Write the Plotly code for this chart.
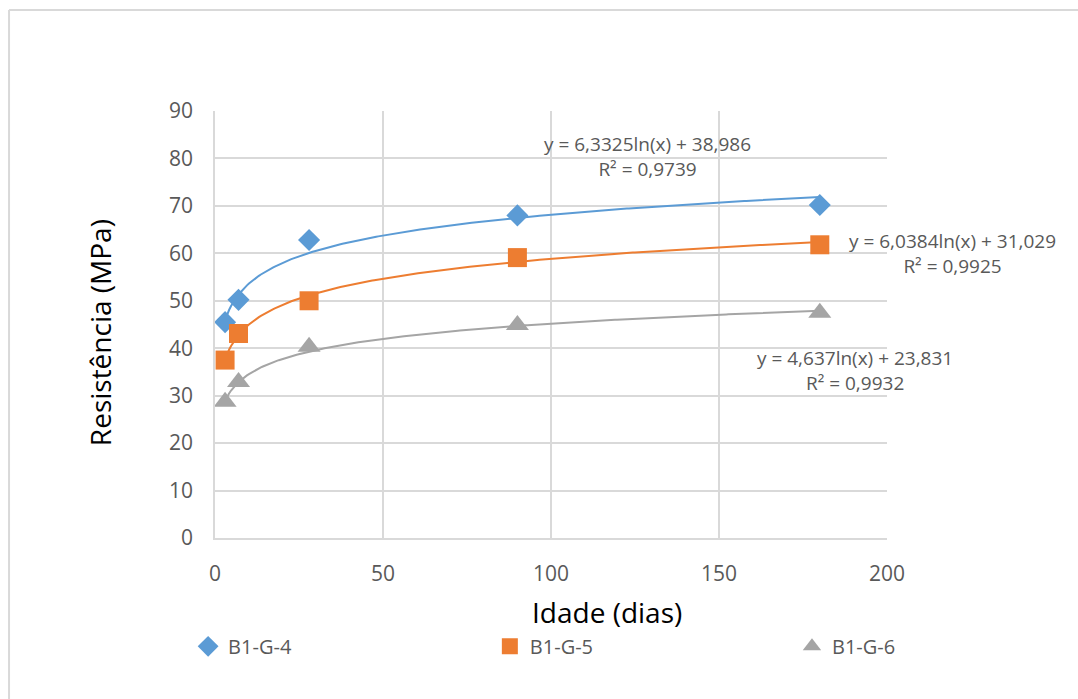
import numpy as np
import plotly.graph_objects as go

idade = [3, 7, 28, 90, 180]
b1_g4 = [45.5, 50.2, 62.8, 68.0, 70.2]
b1_g5 = [37.5, 43.1, 50.0, 59.1, 61.8]
b1_g6 = [28.7, 32.9, 40.3, 44.9, 47.5]

series_names = ["B1-G-4", "B1-G-5", "B1-G-6"]
trend_a = [6.3325, 6.0384, 4.637]
trend_b = [38.986, 31.029, 23.831]
trend_r2 = ["0,9739", "0,9925", "0,9932"]
trend_a_txt = ["6,3325", "6,0384", "4,637"]
trend_b_txt = ["38,986", "31,029", "23,831"]

colors = ["#5B9BD5", "#ED7D31", "#A5A5A5"]
symbols = ["diamond", "square", "triangle-up"]
sizes = [17, 19, 20]
values = [b1_g4, b1_g5, b1_g6]
legend_ids = ["legend", "legend2", "legend3"]
legend_x = [-0.040, 0.409, 0.8586]

FONT = "Open Sans"
GREY = "#595959"
GRID = "#D9D9D9"
fig = go.Figure()

xs = np.linspace(min(idade), max(idade), 300)
for i in range(3):
    fig.add_trace(go.Scatter(
        x=xs, y=trend_a[i] * np.log(xs) + trend_b[i], mode="lines",
        line=dict(color=colors[i], width=2), showlegend=False, hoverinfo="skip"))

for i in range(3):
    fig.add_trace(go.Scatter(
        x=idade, y=values[i], mode="markers", name=series_names[i],
        legend=legend_ids[i],
        marker=dict(color=colors[i], symbol=symbols[i], size=sizes[i])))

# equation labels
ann_pos = [(128.6, 80.5, "center"), (188.1, 60.0, "left"), (190.5, 35.3, "center")]
for i in range(3):
    x, y, al = ann_pos[i]
    txt = f"y = {trend_a_txt[i]}ln(x) + {trend_b_txt[i]}<br>R² = {trend_r2[i]}"
    fig.add_annotation(x=x, y=y, xref="x", yref="y", text=txt, showarrow=False,
                       align="center", xanchor=al, yanchor="middle",
                       font=dict(family=FONT, size=19, color=GREY))

# axis titles
fig.add_annotation(x=0.583, y=-0.173, xref="paper", yref="paper", text="Idade (dias)",
                   showarrow=False, xanchor="center", yanchor="middle",
                   font=dict(family=FONT, size=28, color="black"))
fig.add_annotation(x=-0.171, y=0.48, xref="paper", yref="paper", text="Resistência (MPa)",
                   showarrow=False, xanchor="center", yanchor="middle", textangle=-90,
                   font=dict(family=FONT, size=28, color="black"))

legend_common = dict(orientation="h", y=-0.208, xanchor="left", yanchor="top",
                     bgcolor="rgba(0,0,0,0)",
                     font=dict(size=20, color=GREY, family=FONT))

fig.update_layout(
    width=1078, height=699,
    paper_bgcolor="white", plot_bgcolor="white",
    margin=dict(l=215, r=191, t=111, b=161, autoexpand=False),
    font=dict(family=FONT, color=GREY),
    xaxis=dict(range=[0, 200], dtick=50, showgrid=True, gridcolor=GRID, gridwidth=1.5,
               showline=True, linecolor=GRID, linewidth=1.5, zeroline=False,
               ticks="", ticklabelstandoff=16,
               tickfont=dict(size=21, color=GREY, family=FONT)),
    yaxis=dict(range=[0, 90], dtick=10, showgrid=True, gridcolor=GRID, gridwidth=1.5,
               showline=True, linecolor=GRID, linewidth=1.5, zeroline=False,
               ticks="", ticklabelstandoff=16,
               tickfont=dict(size=21, color=GREY, family=FONT)),
    legend=dict(x=legend_x[0], **legend_common),
    legend2=dict(x=legend_x[1], **legend_common),
    legend3=dict(x=legend_x[2], **legend_common),
    shapes=[
        dict(type="line", xref="paper", yref="paper", x0=-0.3065, x1=1.29, y0=1.2365, y1=1.2365,
             line=dict(color=GRID, width=2)),
        dict(type="line", xref="paper", yref="paper", x0=-0.3065, x1=-0.3065, y0=1.2365, y1=-0.38,
             line=dict(color=GRID, width=2)),
    ],
)

fig.write_html("out.html")
